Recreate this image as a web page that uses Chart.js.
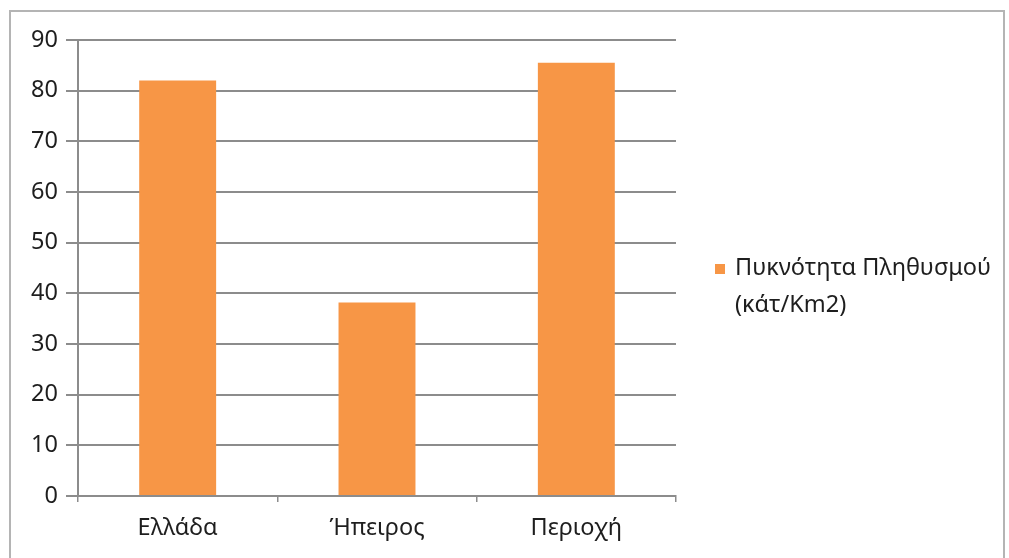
<!DOCTYPE html>
<html>
<head>
<meta charset="utf-8">
<script src="https://cdn.jsdelivr.net/npm/chart.js@4/dist/chart.umd.min.js"></script>
<style>
  html, body { margin: 0; padding: 0; background: #fff; }
  #wrap { position: relative; width: 1009px; height: 558px; }
  #frame { position: absolute; left: 9px; top: 10px; width: 996px; height: 560px;
           border: 2px solid #b4b4b4; box-sizing: border-box; pointer-events: none; }
  canvas { position: absolute; left: 0; top: 0; }
</style>
</head>
<body>
<div id="wrap">
  <canvas id="c" width="1009" height="558"></canvas>
  <div id="frame"></div>
</div>
<script>
const categories = ['Ελλάδα', 'Ήπειρος', 'Περιοχή'];
const densityValues = [82, 38.2, 85.5];
const seriesLabel = ['Πυκνότητα Πληθυσμού', '(κάτ/Km2)'];
const yTicks = [0, 10, 20, 30, 40, 50, 60, 70, 80, 90];

const FONT = '"Noto Sans", sans-serif';
const ORANGE = '#F79646';
const GRID = '#8c8c8c';
const TEXT = '#1e1e1e';
const SIZE = 23.5;

// Legend on the right: swatch plus a two-line series name
const sideLegend = {
  id: 'sideLegend',
  afterDraw(chart) {
    const ctx = chart.ctx;
    const ds = chart.data.datasets[0];
    ctx.save();
    ctx.fillStyle = ds.backgroundColor;
    ctx.fillRect(715, 264, 10, 10);
    ctx.fillStyle = TEXT;
    ctx.font = SIZE + 'px ' + FONT;
    ctx.textBaseline = 'middle';
    ctx.textAlign = 'left';
    ds.legendLines.forEach((line, i) => ctx.fillText(line, 735, 268 + i * 37));
    ctx.restore();
  }
};

new Chart(document.getElementById('c'), {
  type: 'bar',
  data: {
    labels: categories,
    datasets: [{
      label: seriesLabel.join(' '),
      legendLines: seriesLabel,
      data: densityValues,
      backgroundColor: ORANGE,
      borderWidth: 0,
      categoryPercentage: 1,
      barPercentage: 0.386
    }]
  },
  options: {
    responsive: false,
    animation: false,
    layout: { padding: { top: 40, right: 333, bottom: 0, left: 0 } },
    plugins: { legend: { display: false }, tooltip: { enabled: false } },
    scales: {
      x: {
        afterFit(s) { s.height = 62; },
        grid: { offset: true, drawOnChartArea: false, drawTicks: true, tickLength: 6, color: GRID, lineWidth: 1.5 },
        border: { color: GRID, width: 2 },
        ticks: { color: TEXT, font: { family: FONT, size: SIZE }, padding: 12 }
      },
      y: {
        min: 0, max: 90,
        afterFit(s) { s.width = 78; },
        afterBuildTicks(s) { s.ticks = yTicks.map(v => ({ value: v })); },
        grid: { color: GRID, lineWidth: 2, drawTicks: true, tickLength: 12 },
        border: { color: GRID, width: 2 },
        ticks: { color: TEXT, font: { family: FONT, size: SIZE }, padding: 8 }
      }
    }
  },
  plugins: [sideLegend]
});
</script>
</body>
</html>
